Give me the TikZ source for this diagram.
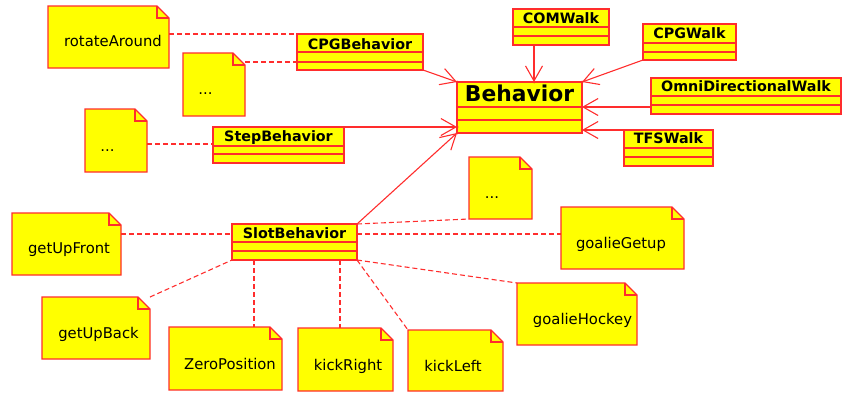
\documentclass[tikz,border=0pt]{standalone}
\usepackage{fontspec}
\setmainfont{DejaVu Sans}
\usetikzlibrary{arrows.meta}
\definecolor{umlred}{RGB}{255,45,45}
\definecolor{umlyellow}{RGB}{255,255,0}
\tikzset{
  boxline/.style={draw=umlred, line width=1.3pt},
  classbox/.style={boxline, fill=umlyellow, inner sep=0pt, outer sep=0pt},
  notebox/.style={inner sep=0pt, outer sep=0pt},
  notepath/.style={boxline, fill=umlyellow, line join=miter},
  classname/.style={anchor=base, font=\bfseries\fontsize{14.3}{16}\selectfont, inner sep=0pt},
  notetext/.style={anchor=base, font=\fontsize{14.8}{16}\selectfont, inner sep=0pt},
  dep/.style={draw=umlred, line width=1.1pt, dash pattern=on 5pt off 3pt},
  gen/.style={draw=umlred, line width=1.1pt, -{Straight Barb[length=15pt,width=17pt]}},
  tipdot/.style={fill=umlred},
}
\newcommand\uclass[9]{%
  \node[classbox, minimum width={(#4)-(#2)}, minimum height={(#5)-(#3)}] (#1) at ({((#2)+(#4))/2},{((#3)+(#5))/2}) {};
  \draw[boxline] (#2,#6) -- (#4,#6) (#2,#7) -- (#4,#7);
  \node[classname] at ({((#2)+(#4))/2},#8) {#9};
}
\newcommand\unote[8]{%
  \node[notebox, minimum width={(#4)-(#2)}, minimum height={(#5)-(#3)}] (#1) at ({((#2)+(#4))/2},{((#3)+(#5))/2}) {};
  \draw[notepath] (#1.north west) -- ([xshift=-12pt]#1.north east) -- ([yshift=-12pt]#1.north east) -- (#1.south east) -- (#1.south west) -- cycle;
  \draw[boxline] ([xshift=-12pt]#1.north east) |- ([yshift=-12pt]#1.north east);
  \node[notetext] at (#6,#7) {#8};
}
\begin{document}
\begin{tikzpicture}[x=1pt,y=-1pt]
\useasboundingbox (0,0) rectangle (842,392);
% classes
\uclass{cpgb}{297}{34}{423}{70}{52}{62}{49}{CPGBehavior}
\uclass{stepb}{213}{127}{344}{163}{146}{154}{141}{StepBehavior}
\uclass{com}{513}{9}{609}{45}{27}{36}{23}{COMWalk}
\uclass{cpgw}{643}{24}{736}{60}{43}{52}{38}{CPGWalk}
\uclass{beh}{457}{82}{582}{133}{107}{120}{101}{\fontsize{21.8}{24}\selectfont Behavior}
\uclass{omni}{651}{78}{841}{114}{96}{105}{91}{OmniDirectionalWalk}
\uclass{tfs}{624}{130}{713}{166}{148}{157}{143}{TFSWalk}
\uclass{slot}{232}{224}{357}{260}{242}{251}{238}{SlotBehavior}
% notes
\unote{rot}{48}{6}{169}{68}{113}{46.5}{rotateAround}
\unote{na}{183}{53}{245}{116}{205.5}{94}{...}
\unote{nb}{85}{109}{147}{172}{107.5}{151}{...}
\unote{nc}{469}{157}{532}{219}{492}{198}{...}
\unote{guf}{12}{213}{121}{275}{69}{253}{getUpFront}
\unote{gub}{42}{297}{150}{359}{98.5}{338}{getUpBack}
\unote{zero}{169}{327}{282}{390}{230}{369}{ZeroPosition}
\unote{kr}{298}{328}{393}{391}{348}{370}{kickRight}
\unote{kl}{408}{330}{503}{391}{453}{371}{kickLeft}
\unote{gg}{561}{207}{684}{269}{621}{248}{goalieGetup}
\unote{gh}{517}{283}{637}{345}{582.5}{324}{goalieHockey}
% dependencies
\draw[dep] (rot.east |- cpgb.north west) -- (cpgb.north west);
\draw[dep] (na.east |- 0,62) -- (cpgb.west |- 0,62);
\draw[dep] (nb.east |- 0,144) -- (stepb.west |- 0,144);
\draw[dep] (guf.east |- 0,234) -- (slot.west |- 0,234);
\draw[dep] (gub.north east) -- (slot.south west);
\draw[dep] (slot.south -| 254,0) -- (zero.north -| 254,0);
\draw[dep] (slot.south -| 340,0) -- (kr.north -| 340,0);
\draw[dep] (slot.south east) -- (kl.north west);
\draw[dep] (slot.south east) -- (gh.north west);
\draw[dep] (slot.east |- 0,234) -- (gg.west |- 0,234);
\draw[dep] (slot.north east) -- (nc.south west);
% generalisations
\draw[gen] (cpgb.south east) -- (beh.north west);
\draw[gen] (stepb.north east) -- (beh.west |- stepb.north east);
\draw[gen] (slot.north east) -- (beh.south west);
\draw[gen] (com.south -| 534,0) -- (beh.north -| 534,0);
\draw[gen] (cpgw.south west) -- (beh.north east);
\draw[gen] (omni.west |- 0,107) -- (beh.east |- 0,107);
\draw[gen] (tfs.north west) -- (beh.east |- tfs.north west);
\fill[tipdot] (beh.north west) circle (1.5pt);
\fill[tipdot] (beh.west |- stepb.north east) circle (1.5pt);
\fill[tipdot] (beh.south west) circle (1.5pt);
\fill[tipdot] (beh.north -| 534,0) circle (1.5pt);
\fill[tipdot] (beh.north east) circle (1.5pt);
\fill[tipdot] (beh.east |- 0,107) circle (1.5pt);
\fill[tipdot] (beh.east |- tfs.north west) circle (1.5pt);
\end{tikzpicture}
\end{document}
